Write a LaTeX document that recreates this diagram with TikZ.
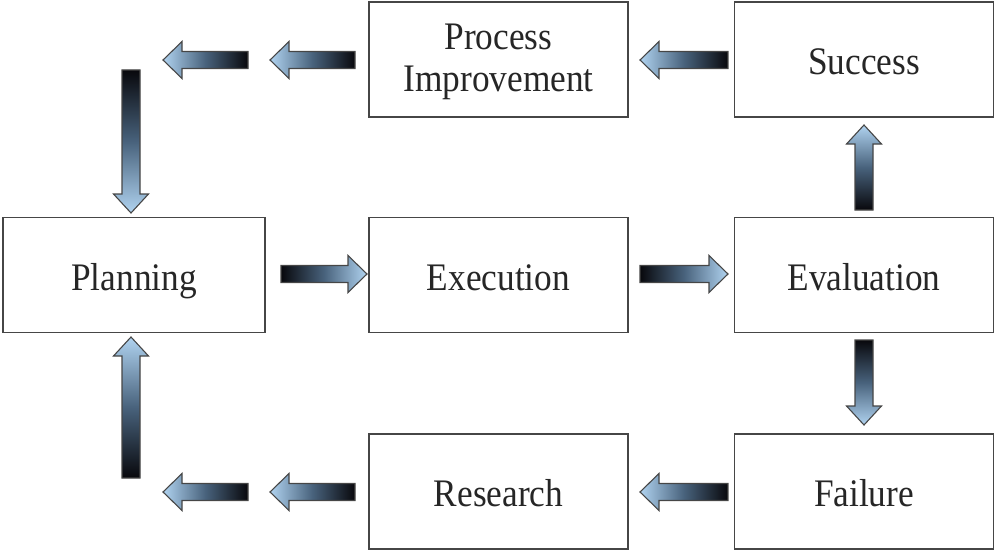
\documentclass[tikz,border=0pt]{standalone}
\usepackage{fontspec}
\setmainfont[FakeStretch=0.905]{Liberation Serif}
\definecolor{alight}{RGB}{176,211,240}
\definecolor{amid}{RGB}{72,98,124}
\definecolor{adark}{RGB}{8,8,12}
\definecolor{aline}{RGB}{70,70,70}
\tikzset{
  box/.style={draw=aline,line width=1.6pt,minimum width=259pt,minimum height=115pt,
    align=center,font=\fontsize{39}{41.7}\selectfont,text=black!85,inner sep=0pt,
    text height=33pt,text depth=3pt},
  barrow/.style={draw=aline,line width=1.1pt,line join=miter}
}
% right-pointing: tail x, tip x, y
\newcommand\ArrR[3]{\shadedraw[barrow,left color=adark,right color=alight,middle color=amid]
  (#1,#3-8.5) -- (#2-19,#3-8.5) -- (#2-19,#3-18.5) -- (#2,#3) -- (#2-19,#3+18.5) -- (#2-19,#3+8.5) -- (#1,#3+8.5) -- cycle;}
% left-pointing: tip x, tail x, y
\newcommand\ArrL[3]{\shadedraw[barrow,left color=alight,right color=adark,middle color=amid]
  (#2,#3-8.5) -- (#1+19,#3-8.5) -- (#1+19,#3-18.5) -- (#1,#3) -- (#1+19,#3+18.5) -- (#1+19,#3+8.5) -- (#2,#3+8.5) -- cycle;}
% down-pointing: x, tail y, tip y
\newcommand\ArrD[3]{\shadedraw[barrow,top color=adark,bottom color=alight,middle color=amid]
  (#1-9,#2) -- (#1-9,#3-19) -- (#1-17.5,#3-19) -- (#1,#3) -- (#1+17.5,#3-19) -- (#1+9,#3-19) -- (#1+9,#2) -- cycle;}
% up-pointing: x, tip y, tail y
\newcommand\ArrU[3]{\shadedraw[barrow,top color=alight,bottom color=adark,middle color=amid]
  (#1-9,#3) -- (#1-9,#2+19) -- (#1-17.5,#2+19) -- (#1,#2) -- (#1+17.5,#2+19) -- (#1+9,#2+19) -- (#1+9,#3) -- cycle;}
\begin{document}
\begin{tikzpicture}[x=1pt,y=-1pt]
\useasboundingbox (0,0) rectangle (994,551);
\node[box,text height=66pt,text depth=2pt] (pi) at (498.5,59.5)
  {\begin{tabular}[b]{@{}c@{}}Process\\Improvement\end{tabular}};
\node[box] (succ) at (864,59.5) {Success};
\node[box,minimum width=262pt] (plan) at (134,275) {Planning};
\node[box] (exec) at (498.5,275) {Execution};
\node[box] (eval) at (864,275) {Evaluation};
\node[box] (res) at (498.5,491.5) {Research};
\node[box] (fail) at (864,491.5) {Failure};
% top row
\ArrL{163}{248}{60}
\ArrL{270}{355}{60}
\ArrL{640}{728}{60}
% middle row
\ArrR{281}{367}{274}
\ArrR{640}{728}{274}
% bottom row
\ArrL{163}{248}{492}
\ArrL{270}{355}{492}
\ArrL{640}{728}{492}
% verticals
\ArrD{131}{70}{213}
\ArrU{131}{337}{478}
\ArrU{864}{125}{210}
\ArrD{864}{340}{425}
\end{tikzpicture}
\end{document}
